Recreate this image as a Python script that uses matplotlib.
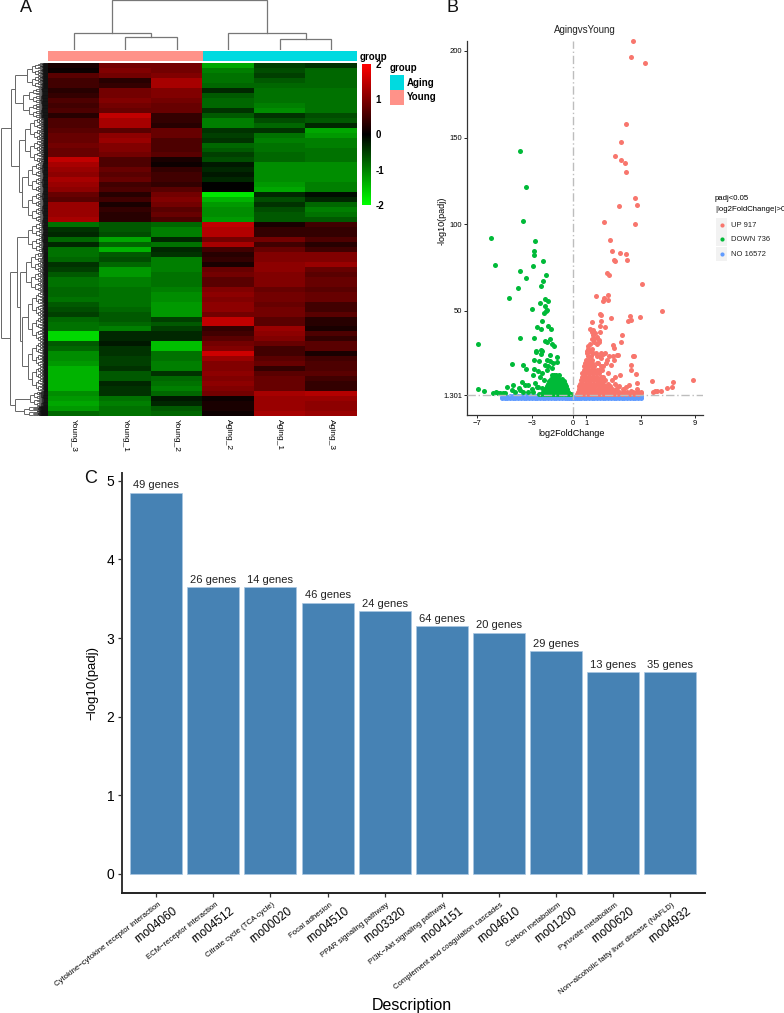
import matplotlib
matplotlib.use("Agg")
import matplotlib.pyplot as plt
import numpy as np
from matplotlib.colors import LinearSegmentedColormap
from matplotlib.collections import LineCollection
from matplotlib.patches import Rectangle

plt.rcParams['font.family'] = ['Liberation Sans', 'DejaVu Sans']

W, H = 784, 1013

# ---------- Panel A ----------
samples = ["Young_3", "Young_1", "Young_2", "Aging_2", "Aging_1", "Aging_3"]
sample_group = ["Young", "Young", "Young", "Aging", "Aging", "Aging"]
group_colors = {"Aging": "#00DAE0", "Young": "#FF9289"}
heat_high_young = [
    [0.2, 0.9, 0.9, -1.3, -0.5, -0.4], [0.1, 1.0, 0.9, -1.0, -0.6, -0.8],
    [0.7, 0.9, 1.0, -0.9, -0.5, -0.8], [0.5, 0.3, 1.3, -0.9, -0.7, -0.8],
    [0.5, 0.4, 1.3, -0.8, -0.8, -0.8], [0.3, 0.9, 1.0, -0.3, -0.9, -0.9],
    [0.4, 0.9, 1.0, -0.7, -0.9, -0.9], [0.6, 1.0, 0.9, -0.8, -0.9, -0.9],
    [0.5, 0.9, 0.8, -0.8, -1.0, -0.9], [0.6, 0.8, 0.8, -0.4, -1.1, -0.9],
    [0.3, 1.5, 0.4, -0.7, -0.4, -0.6], [0.6, 1.3, 0.4, -1.0, -0.6, -0.7],
    [0.6, 1.3, 0.3, -1.0, -0.8, -0.3], [0.7, 0.7, 0.8, -0.4, -0.4, -1.3],
    [0.8, 1.1, 0.8, -0.5, -0.9, -1.2], [0.8, 1.2, 0.6, -0.4, -1.0, -1.0],
    [0.9, 1.0, 0.6, -0.8, -0.9, -1.0], [0.8, 1.0, 0.6, -0.7, -0.9, -0.9],
    [0.8, 0.9, 0.7, -0.5, -0.8, -0.9], [1.5, 0.6, 0.2, -0.6, -0.8, -0.9],
    [1.3, 0.6, 0.1, -0.2, -1.1, -1.1], [1.2, 0.8, 0.4, -0.3, -1.1, -1.1],
    [1.1, 0.7, 0.5, -0.2, -1.1, -1.1], [1.3, 0.8, 0.5, -0.3, -1.1, -1.1],
    [1.2, 0.5, 0.4, 0.0, -1.2, -1.0], [1.1, 0.6, 0.7, 0.0, -1.3, -1.0],
    [0.8, 0.3, 0.9, -1.8, -0.3, -0.1], [0.7, 0.5, 1.0, -1.4, -0.6, -0.3],
    [1.2, 0.2, 0.9, -1.2, -0.4, -0.8], [1.2, 0.4, 0.7, -1.1, -0.6, -1.0],
    [1.2, 0.3, 0.8, -1.1, -0.7, -0.9], [1.3, 0.3, 0.6, -1.2, -0.7, -0.7],
]
heat_high_aging = [
    [-0.9, -0.7, -0.8, 1.5, 0.2, 0.5], [-0.4, -0.7, -1.0, 1.4, 0.4, 0.4],
    [-0.3, -0.6, -1.0, 1.4, 0.4, 0.4], [-0.8, -1.3, -0.3, 0.9, 0.9, 0.6],
    [-0.3, -0.8, -0.9, 1.3, 0.5, 0.3], [-0.9, -1.4, -0.3, 0.5, 0.8, 0.5],
    [-0.9, -0.7, -0.4, 0.3, 1.0, 1.0], [-0.8, -0.6, -1.0, 0.4, 1.0, 1.0],
    [-0.4, -0.8, -1.0, 0.2, 1.1, 1.2], [-0.5, -1.2, -1.0, 0.8, 1.1, 0.8],
    [-0.7, -1.2, -0.9, 0.9, 1.0, 0.7], [-0.9, -1.0, -0.9, 0.7, 1.0, 0.8],
    [-0.9, -1.0, -0.9, 0.7, 1.0, 0.8], [-0.8, -0.9, -1.0, 1.0, 0.8, 0.7],
    [-0.8, -0.9, -1.1, 1.1, 0.9, 0.8], [-0.9, -0.9, -1.1, 1.0, 0.9, 0.8],
    [-0.7, -0.9, -1.2, 1.1, 0.8, 0.5], [-0.6, -0.8, -1.2, 1.1, 0.9, 0.5],
    [-0.5, -0.7, -1.2, 0.9, 0.9, 0.7], [-0.8, -0.7, -0.5, 1.5, 0.7, 0.3],
    [-0.9, -0.8, -0.7, 1.5, 0.7, 0.3], [-0.9, -1.0, -0.5, 0.4, 1.2, 0.2],
    [-1.7, -0.3, -0.3, 0.5, 1.1, 0.6], [-1.7, -0.3, -0.3, 0.7, 1.0, 0.4],
    [-0.7, -0.2, -1.5, 0.9, 0.8, 0.7], [-0.8, -0.4, -1.5, 1.0, 0.5, 0.7],
    [-1.1, -0.4, -0.9, 1.6, 0.5, 0.2], [-1.1, -0.5, -0.9, 1.2, 0.7, 0.5],
    [-1.2, -0.5, -1.0, 1.0, 0.8, 0.6], [-1.4, -0.4, -1.0, 1.0, 0.4, 0.6],
    [-1.4, -0.7, -0.4, 1.1, 0.7, 0.7], [-1.4, -0.7, -0.8, 1.0, 0.8, 0.5],
    [-1.4, -0.3, -0.9, 1.1, 0.8, 0.4], [-1.4, -0.4, -1.0, 1.0, 0.8, 0.4],
    [-1.1, -0.4, -0.8, 0.9, 1.3, 1.4], [-1.2, -0.9, -0.2, 0.1, 1.2, 1.2],
    [-1.3, -1.0, -0.3, 0.2, 1.2, 1.1], [-1.2, -0.9, -0.7, 0.2, 1.2, 1.1],
    [-0.8, -0.9, -0.8, 0.1, 1.3, 1.2],
]
# column tree: (left, right, merge height); ints are column positions
col_tree = ((0, (1, 2, 0.26), 0.34), (3, (4, 5, 0.21), 0.34), 1.0)
# row tree: (distance, child, child), leaf cluster: (distance, first row, last row)
row_tree = (47,
    (37,
        (33, (21, 0, 5), (25, 5, 11)),
        (29, (23, 11, 20), (26, 20, 32))),
    (38.5,
        (31, (20, 32, 38), (28, (22, 38, 46), (26, 46, 66))),
        (33, (18, 66, 69), (24, 69, 71))))
heat_ticks = [2, 1, 0, -1, -2]

# ---------- Panel B ----------
up_x = [4.43, 4.28, 5.28, 3.89, 3.57, 3.13, 3.52, 3.84, 3.89, 4.55, 3.37, 4.74, 2.32, 4.57, 2.74, 2.86, 3.5, 3.91, 3.99,
        3.0, 3.13, 2.52, 2.64, 5.09, 2.57, 1.74, 2.32, 2.2, 2.62, 6.53, 1.98, 2.1, 2.81, 4.18, 4.96, 4.28, 4.08, 2.05,
        1.44, 2.0, 2.37, 1.3, 1.48, 1.44, 1.61, 2.0, 3.6, 3.52, 1.5, 1.6, 1.75, 1.9, 1.55, 1.4, 1.8, 1.95, 2.93, 3.03, 3.23, 3.35,
        2.93, 4.45, 4.52, 4.25, 4.25, 4.62, 3.47, 4.7, 4.16, 5.8, 7.36, 8.83, 7.31, 6.89, 6.45, 6.04, 6.16, 5.87, 3.0, 2.7,
        2.2, 2.35, 2.1, 2.5, 2.8, 2.45, 2.05, 1.85, 2.15, 2.6, 2.9, 3.1, 3.3, 3.7, 4.0, 4.4, 4.6, 4.8, 5.0, 4.9, 4.3, 3.8, 3.4,
        3.2, 2.9, 2.6, 2.4, 2.2, 2.0, 1.8, 3.6, 3.9, 4.2, 4.7, 5.05, 4.55, 3.1, 2.7, 1.15, 1.3, 1.05, 1.7, 1.25]
up_y = [205.6, 196.2, 193.3, 157.9, 147.5, 139.4, 136.9, 135.6, 130.4, 115, 110.8, 111.2, 101.5, 100.3, 91.1, 84.6, 83.6, 82.6, 79.6,
        79.2, 79, 71.9, 70.5, 65.3, 59.2, 58.4, 57.5, 55.7, 56.5, 49.8, 48.4, 47.6, 46.1, 46.9, 46.3, 45, 44.4, 44,
        43.6, 41.5, 40.7, 39.5, 39, 38, 37.5, 38, 36.1, 32, 36, 34, 35, 33, 32, 34, 31, 32, 30.1, 28.6, 24.8, 24.4,
        24, 24.2, 24.2, 18.8, 15.7, 13.8, 12.8, 8.4, 7.5, 9.8, 9.2, 10.1, 5.9, 5.5, 4, 3.6, 3.6, 3, 22, 24,
        25, 26, 23, 22, 19, 20, 18, 20, 16, 14, 10, 8, 6, 5, 3.5, 3, 2.8, 3.2, 3, 2.5, 4, 3, 7,
        4, 5, 7, 10, 12, 9, 11, 2.5, 6, 2.5, 5, 2.6, 2.8, 12, 3, 30, 27, 27, 26, 31]
# dense wedge of the UP group: level of -log10(padj) -> log2FoldChange values
up_dense = {
    2: [0.3, 0.5, 0.7, 0.9, 1.1, 1.3, 1.5, 1.7, 1.9, 2.1, 2.3, 2.5, 2.7, 2.9, 3.1, 3.3, 3.6, 3.9, 4.2, 4.5, 4.8],
    3.5: [0.4, 0.55, 0.75, 0.95, 1.15, 1.35, 1.55, 1.8, 2.0, 2.2, 2.4, 2.65, 2.85, 3.05, 3.4, 3.75],
    5: [0.45, 0.6, 0.8, 1.0, 1.2, 1.4, 1.6, 1.85, 2.05, 2.3, 2.55, 2.8, 3.2],
    6.5: [0.5, 0.65, 0.85, 1.05, 1.25, 1.45, 1.65, 1.9, 2.15, 2.45, 2.75],
    8: [0.55, 0.7, 0.9, 1.1, 1.3, 1.5, 1.7, 1.95, 2.25, 2.6],
    10: [0.6, 0.75, 0.95, 1.15, 1.35, 1.55, 1.75, 2.0, 2.3],
    12: [0.65, 0.85, 1.0, 1.2, 1.4, 1.6, 1.8, 2.1],
    14: [0.7, 0.9, 1.1, 1.3, 1.5, 1.7, 1.9],
    16: [0.8, 0.95, 1.15, 1.35, 1.55, 1.75, 1.95],
    18: [0.85, 1.0, 1.2, 1.4, 1.6, 2.2],
    20: [0.9, 1.05, 1.25, 1.45, 1.75],
    22: [1.0, 1.2, 1.45],
    24: [1.1, 1.35, 1.75, 2.0],
    26: [1.05, 1.5, 2.1],
    28: [1.15, 1.4],
}
down_x = [-3.86, -3.4, -3.64, -6.01, -2.76, -2.86, -2.84, -2.18, -2.91, -5.7, -3.86, -3.42, -1.93, -2.18, -2.32, -3.99, -4.67,
          -2.05, -2.37, -1.81, -2.03, -3.0, -1.86, -1.93, -2.13, -2.27, -2.59, -1.78, -2.35, -1.61, -3.84, -2.84, -6.94,
          -2.03, -1.86, -1.66, -1.54, -1.37, -2.69, -2.25, -1.13, -1.67, -2.30, -2.72, -2.33, -2.84, -2.47, -1.86, -1.67,
          -1.42, -1.13, -2.03, -1.79, -3.62, -4.48, -3.43, -2.84, -2.52, -2.28, -1.91, -1.54, -2.89, -2.40, -2.11, -3.70,
          -3.52, -3.26, -2.77, -2.52, -2.28, -4.80, -4.48, -4.24, -3.87, -3.62, -3.26, -3.01, -2.89, -2.65, -3.94, -4.36,
          -6.94, -6.48, -5.87, -5.65, -5.45, -5.33, -5.1, -4.95]
down_y = [142.1, 121.7, 102, 92.3, 90.3, 84.4, 82.3, 79, 75.7, 76.3, 72.8, 69.2, 70.9, 67.3, 64.4, 63, 57.5,
          56.9, 54.6, 55.9, 52.6, 51.3, 50.7, 49.8, 48.6, 44.4, 40.5, 41.5, 39.6, 39.6, 34.6, 34.4, 31.1,
          32.8, 32, 34, 30.7, 29.6, 26.9, 27.1, 23.7, 24.6, 27.5, 26.5, 25.2, 21.8, 21.4, 21.8, 21.4,
          19.8, 20.8, 18.9, 18, 18.9, 19.4, 16.4, 16.4, 15.1, 14.1, 16, 17, 13.1, 12.1, 10.2, 9.2,
          7.4, 7.4, 8.3, 6, 5.4, 6.3, 4.5, 3.5, 4.5, 3.5, 3.5, 4.8, 3.5, 6, 5.4, 7.4,
          5, 3.6, 2.5, 3, 2.6, 2.5, 2.8, 2.5]
down_dense = {
    2: [-2.5, -2.3, -2.1, -1.95, -1.8, -1.65, -1.5, -1.35, -1.2, -1.05, -0.9, -0.75, -0.6, -0.45, -0.3, -0.15],
    3.5: [-2.2, -2.05, -1.9, -1.75, -1.6, -1.45, -1.3, -1.15, -1.0, -0.85, -0.7, -0.55, -0.35],
    5: [-2.0, -1.85, -1.7, -1.55, -1.4, -1.25, -1.1, -0.95, -0.8, -0.65, -0.45],
    6.5: [-1.9, -1.75, -1.6, -1.45, -1.3, -1.15, -1.0, -0.85, -0.65, -0.5],
    8: [-1.8, -1.65, -1.5, -1.35, -1.2, -1.05, -0.9, -0.7, -0.55],
    9.5: [-1.75, -1.6, -1.45, -1.3, -1.15, -1.0, -0.8, -0.65],
    11: [-1.6, -1.45, -1.3, -1.15, -1.0, -0.8],
    13: [-1.5, -1.35, -1.2, -1.0],
}
no_x = [-5.2, -5.0, -4.8, -4.6, -4.4, -4.2, -4.0, -3.8, -3.6, -3.4, -3.2, -3.0, -2.8, -2.6, -2.4, -2.2, -2.0, -1.8, -1.6, -1.4, -1.2,
        -1.0, -0.8, -0.6, -0.45, -0.3, -0.15, 0.0, 0.15, 0.3, 0.45, 0.6, 0.8, 1.0, 1.2, 1.4, 1.6, 1.8, 2.0, 2.2, 2.4, 2.6, 2.8, 3.0, 3.2,
        3.4, 3.6, 3.8, 4.0, 4.2, 4.4, 4.6, 4.8, 5.0]
no_low = [-0.1, 0.0, -0.1, 0.0, -0.1, 0.0, -0.1, 0.0, -0.1, 0.0, -0.1, 0.0, -0.1, 0.0, -0.1, 0.0, -0.1, 0.0, -0.1, 0.0, -0.1,
          0.0, -0.1, 0.0, 0.0, 0.0, 0.0, 0.0, 0.0, 0.0, 0.0, 0.0, -0.1, 0.0, -0.1, 0.0, -0.1, 0.0, -0.1, 0.0, -0.1, 0.0, -0.1, 0.0, -0.1,
          0.0, -0.1, 0.0, -0.1, 0.0, -0.1, 0.0, -0.1, -0.1]
no_high = [0.1, 0.4, 0.6, 0.8, 0.9, 0.9, 0.9, 0.9, 0.9, 0.9, 0.9, 0.9, 0.9, 0.9, 0.9, 0.9, 0.9, 0.9, 0.9, 0.9, 0.9,
           0.9, 0.9, 0.9, 0.8, 0.6, 0.3, 0.1, 0.3, 0.6, 0.8, 0.9, 0.9, 0.9, 0.9, 0.9, 0.9, 0.9, 0.9, 0.9, 0.9, 0.9, 0.9, 0.9, 0.9,
           0.9, 0.9, 0.9, 0.9, 0.9, 0.9, 0.9, 0.9, 0.8]
volcano_xticks = [-7, -3, 0, 1, 5, 9]
volcano_yticks = [1.301, 50, 100, 150, 200]
volcano_ylabels = ["1.301", "50", "100", "150", "200"]
volcano_legend = ["UP 917", "DOWN 736", "NO 16572"]
volcano_colors = ["#F8766D", "#00BA38", "#619CFF"]

# ---------- Panel C ----------
pathway_desc = ["Cytokine\u2212cytokine receptor interaction", "ECM\u2212receptor interaction", "Citrate cycle (TCA cycle)",
                "Focal adhesion", "PPAR signaling pathway", "PI3K\u2212Akt signaling pathway",
                "Complement and coagulation cascades", "Carbon metabolism", "Pyruvate metabolism",
                "Non\u2212alcoholic fatty liver disease (NAFLD)"]
pathway_id = ["rno04060", "rno04512", "rno00020", "rno04510", "rno03320", "rno04151", "rno04610", "rno01200", "rno00620", "rno04932"]
pathway_val = [4.85, 3.65, 3.65, 3.45, 3.34, 3.15, 3.07, 2.83, 2.57, 2.57]
pathway_genes = [49, 26, 14, 46, 24, 64, 20, 29, 13, 35]


def px_axes(x0, y0, x1, y1):
    ax = fig.add_axes([x0 / W, 1 - y1 / H, (x1 - x0) / W, (y1 - y0) / H])
    return ax


fig = plt.figure(figsize=(W / 100, H / 100), dpi=100)
fig.patch.set_facecolor("white")

for lab, x, y in [("A", 26, 7), ("B", 453, 7), ("C", 91, 478)]:
    fig.text(x / W, 1 - y / H, lab, fontsize=13, ha="center", va="center", color="#111111")

# heatmap
heat = np.array(heat_high_young + heat_high_aging)
cmap = LinearSegmentedColormap.from_list("gbr", ["#00FF00", "#000000", "#FF0000"])
ax = px_axes(48, 63, 357, 416)
ax.imshow(heat, aspect="auto", cmap=cmap, vmin=-2, vmax=2, interpolation="nearest")
ax.set_yticks([])
ax.set_xticks(range(6))
ax.set_xticklabels(samples, rotation=-90, fontsize=6, fontweight="normal")
ax.tick_params(axis="x", length=0, pad=2)
for s in ax.spines.values():
    s.set_visible(False)

# group bar
ax = px_axes(48, 51, 357, 61)
for i, g in enumerate(sample_group):
    ax.bar(i, 1, width=1, color=group_colors[g])
ax.set_xlim(-0.5, 5.5)
ax.set_ylim(0, 1)
ax.axis("off")


# column dendrogram
def draw_col(node, ax):
    if isinstance(node, int):
        return node, 0.0
    lx, lh = draw_col(node[0], ax)
    rx, rh = draw_col(node[1], ax)
    h = node[2]
    ax.plot([lx, lx, rx, rx], [lh, h, h, rh], color="#777777", lw=0.9, solid_joinstyle="miter")
    return (lx + rx) / 2, h


ax = px_axes(48, 0, 357, 50)
draw_col(col_tree, ax)
ax.set_xlim(-0.5, 5.5)
ax.set_ylim(0, 1.0)
ax.axis("off")

# row dendrogram
segs_g, segs_k = [], []
MIN_SPAN = 0.05


def fan(d, r0, r1):
    if r1 - r0 < MIN_SPAN:
        return (r0 + r1) / 2
    m = r0 + (r1 - r0) * 0.5
    sub = d * 0.78
    a = fan(sub, r0, m)
    b = fan(sub, m, r1)
    target = segs_k if d < 13 else segs_g
    da = sub if m - r0 >= MIN_SPAN else 0
    db = sub if r1 - m >= MIN_SPAN else 0
    target += [[(da, a), (d, a)], [(d, a), (d, b)], [(d, b), (db, b)]]
    return (a + b) / 2


def draw_row(node):
    d = node[0]
    if isinstance(node[1], int):
        return fan(d, node[1] - 0.5, node[2] - 0.5)
    a = draw_row(node[1])
    b = draw_row(node[2])
    segs_g.extend([[(node[1][0], a), (d, a)], [(d, a), (d, b)], [(d, b), (node[2][0], b)]])
    return (a + b) / 2


ax = px_axes(0, 63, 48, 416)
draw_row(row_tree)
ax.add_collection(LineCollection(segs_g, colors="#666666", linewidths=0.7))
ax.add_collection(LineCollection(segs_k, colors="#111111", linewidths=0.45))
ax.set_xlim(48, 0)
ax.set_ylim(len(heat) - 0.5, -0.5)
ax.axis("off")

# colour bar
ax = px_axes(362, 64, 371, 205)
ax.imshow(np.linspace(2, -2, 200)[:, None], aspect="auto", cmap=cmap, vmin=-2, vmax=2, extent=[0, 1, -2, 2])
ax.set_xticks([])
ax.yaxis.tick_right()
ax.set_yticks(heat_ticks)
ax.set_yticklabels([str(t) for t in heat_ticks], fontsize=7, fontweight="bold")
ax.tick_params(axis="y", length=0, pad=3)
for s in ax.spines.values():
    s.set_visible(False)

fig.text(360 / W, 1 - 57 / H, "group", fontsize=7, fontweight="bold", va="center")
fig.text(390 / W, 1 - 68 / H, "group", fontsize=7, fontweight="bold", va="center")
for k, (name, yy) in enumerate([("Aging", 75), ("Young", 90)]):
    fig.add_artist(Rectangle((390 / W, 1 - (yy + 15) / H), 14 / W, 15 / H, transform=fig.transFigure,
                             color=group_colors[name], lw=0))
    fig.text(407 / W, 1 - (yy + 7.5) / H, name, fontsize=7, fontweight="bold", va="center")

# volcano
ax = px_axes(467, 41, 703, 415)
ax.set_xlim(-7.76, 9.57)
ax.set_ylim(-10, 205.7)
ax.axvline(0, color="#BDBDBD", lw=1.0, ls=(0, (6, 2, 1, 2)), zorder=4)
ax.axhline(1.301, color="#BDBDBD", lw=1.0, ls=(0, (6, 2, 1, 2)), zorder=4)
ms = 13
ax.scatter(no_x + no_x, no_low + no_high, s=ms, color=volcano_colors[2], lw=0, zorder=2, clip_on=False)
ax.scatter(up_x, up_y, s=ms, color=volcano_colors[0], lw=0, zorder=3, clip_on=False)
for y, xs in up_dense.items():
    ax.scatter(xs, [y] * len(xs), s=ms, color=volcano_colors[0], lw=0, zorder=3)
ax.scatter(down_x, down_y, s=ms, color=volcano_colors[1], lw=0, zorder=3)
for y, xs in down_dense.items():
    ax.scatter(xs, [y] * len(xs), s=ms, color=volcano_colors[1], lw=0, zorder=3)
ax.set_xticks(volcano_xticks)
ax.set_yticks(volcano_yticks)
ax.set_yticklabels(volcano_ylabels)
ax.tick_params(labelsize=5.5, length=2, width=0.6, pad=1.5)
ax.spines["top"].set_visible(False)
ax.spines["right"].set_visible(False)
ax.spines["left"].set_linewidth(0.9)
ax.spines["bottom"].set_linewidth(0.9)
ax.spines["left"].set_color("#333333")
ax.spines["bottom"].set_color("#333333")
fig.text(585 / W, 1 - 30 / H, "AgingvsYoung", fontsize=7, ha="center", va="center", color="#222222")
fig.text(442 / W, 1 - 221 / H, "-log10(padj)", fontsize=6.5, rotation=90, ha="center", va="center")
fig.text(572 / W, 1 - 433 / H, "log2FoldChange", fontsize=6.5, ha="center", va="center")
fig.text(715 / W, 1 - 199 / H, "padj<0.05", fontsize=5.6, va="center")
fig.text(715 / W, 1 - 209 / H, "|log2FoldChange|>0", fontsize=5.6, va="center")
for k, (lab, col) in enumerate(zip(volcano_legend, volcano_colors)):
    yc = 225 + k * 14.5
    fig.add_artist(Rectangle((716 / W, 1 - (yc + 7) / H), 11 / W, 14 / H, transform=fig.transFigure,
                             color="#F2F2F2", lw=0))
    fig.add_artist(plt.Line2D([721.5 / W], [1 - yc / H], marker="o", ms=3, color=col, mew=0, transform=fig.transFigure))
    fig.text(731 / W, 1 - yc / H, lab, fontsize=5.5, va="center", color="#222222")

# enrichment bars
ax = px_axes(122, 473, 705, 893)
x = np.arange(len(pathway_val))
ax.bar(x, pathway_val, width=0.91, color="#4682B4", edgecolor="#A9C7E2", linewidth=0.5)
ax.set_xlim(-0.6, 9.61)
ax.set_ylim(-0.242, 5.10)
ax.set_yticks(range(6))
ax.tick_params(axis="y", labelsize=10, length=3, width=0.9, pad=2.5, color="#333333")
ax.set_xticks(x)
ax.set_xticklabels([])
ax.tick_params(axis="x", length=3, width=0.9, color="#333333")
for i, (v, g) in enumerate(zip(pathway_val, pathway_genes)):
    ax.text(i, v + 0.03, f"{g} genes", ha="center", va="bottom", fontsize=8, color="#222222")
    ax.annotate(pathway_desc[i], xy=(i, 0), xycoords=("data", "axes fraction"), xytext=(4, -11),
                textcoords="offset pixels", rotation=38, rotation_mode="anchor", ha="right", va="center", fontsize=5.6)
    ax.annotate(pathway_id[i], xy=(i, 0), xycoords=("data", "axes fraction"), xytext=(20, -17),
                textcoords="offset pixels", rotation=38, rotation_mode="anchor", ha="right", va="center", fontsize=8.5)
ax.spines["top"].set_visible(False)
ax.spines["right"].set_visible(False)
ax.spines["left"].set_linewidth(1.4)
ax.spines["bottom"].set_linewidth(1.4)
ax.spines["left"].set_color("#333333")
ax.spines["bottom"].set_color("#222222")
fig.text(92 / W, 1 - 683 / H, "\u2212log10(padj)", fontsize=9.5, rotation=90, ha="center", va="center")
fig.text(412 / W, 1 - 1005 / H, "Description", fontsize=11.5, ha="center", va="center")

fig.savefig("out.png", dpi=100)
